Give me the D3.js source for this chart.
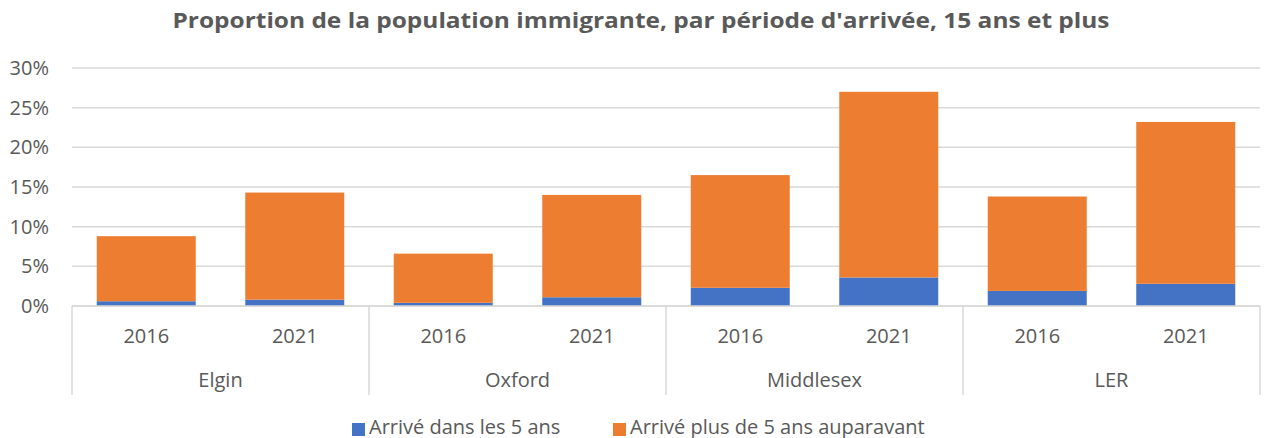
<!DOCTYPE html>
<html>
<head>
<meta charset="utf-8">
<script src="https://cdn.jsdelivr.net/npm/d3@7"></script>
<style>
  body { margin: 0; background: #fff; }
  text { font-family: "Open Sans", "Liberation Sans", sans-serif; fill: #595959; }
</style>
</head>
<body>
<div id="chart"></div>
<script>
const regions = ["Elgin", "Oxford", "Middlesex", "LER"];
const years = ["2016", "2021"];
const seriesNames = ["Arrivé dans les 5 ans", "Arrivé plus de 5 ans auparavant"];
// values in %, order: Elgin 2016, Elgin 2021, Oxford 2016, ...
const recent = [0.6, 0.8, 0.4, 1.1, 2.3, 3.6, 1.9, 2.8];
const earlier = [8.2, 13.5, 6.2, 12.9, 14.2, 23.4, 11.9, 20.4];
const yTicks = [0, 5, 10, 15, 20, 25, 30];

const width = 1266;
const height = 438;
const margin = {top: 68, right: 6, bottom: 132, left: 72};
const innerWidth = width - margin.left - margin.right;
const innerHeight = height - margin.top - margin.bottom;
const colors = ["#4472C4", "#ED7D31"];

const rows = [];
regions.forEach((r, i) => years.forEach((y, j) => {
    const k = i * years.length + j;
    rows.push({region: r, year: y, recent: recent[k], earlier: earlier[k]});
}));

const svg = d3.select("#chart")
    .append("svg")
    .attr("width", width)
    .attr("height", height);

svg.append("text")
    .attr("x", 641)
    .attr("y", 28)
    .attr("text-anchor", "middle")
    .attr("textLength", 937)
    .attr("lengthAdjust", "spacingAndGlyphs")
    .style("font-size", "22px")
    .style("font-weight", "bold")
    .text("Proportion de la population immigrante, par période d'arrivée, 15 ans et plus");

const graph = svg.append("g")
    .attr("transform", `translate(${margin.left}, ${margin.top})`);

const xGroup = d3.scaleBand()
    .domain(regions)
    .range([0, innerWidth]);

const xYear = d3.scaleBand()
    .domain(years)
    .range([0, xGroup.bandwidth()])
    .paddingInner(1 / 3)
    .paddingOuter(1 / 6);

const yScale = d3.scaleLinear()
    .domain([0, 30])
    .range([innerHeight, 0]);

// gridlines
graph.append("g")
    .selectAll("line")
    .data(yTicks)
    .join("line")
    .attr("x1", 0)
    .attr("x2", innerWidth)
    .attr("y1", d => yScale(d))
    .attr("y2", d => yScale(d))
    .attr("stroke", "#d9d9d9")
    .attr("stroke-width", 1.5);

graph.append("g")
    .selectAll("text")
    .data(yTicks)
    .join("text")
    .attr("x", -23)
    .attr("y", d => yScale(d) + 7)
    .attr("text-anchor", "end")
    .style("font-size", "20px")
    .text(d => d + "%");

const stack = d3.stack().keys(["recent", "earlier"]);
const stacked = stack(rows);

graph.append("g")
    .selectAll("g")
    .data(stacked)
    .join("g")
    .attr("fill", (d, i) => colors[i])
    .selectAll("rect")
    .data(d => d)
    .join("rect")
    .attr("x", d => xGroup(d.data.region) + xYear(d.data.year))
    .attr("width", xYear.bandwidth())
    .attr("y", d => yScale(d[1]))
    .attr("height", d => yScale(d[0]) - yScale(d[1]));

// multi-level category axis
const axis = graph.append("g")
    .attr("transform", `translate(0, ${innerHeight})`);

axis.append("line")
    .attr("x1", 0)
    .attr("x2", innerWidth)
    .attr("stroke", "#d9d9d9")
    .attr("stroke-width", 1.5);

axis.selectAll("line.sep")
    .data(regions.map(r => xGroup(r)).concat([innerWidth]))
    .join("line")
    .attr("class", "sep")
    .attr("x1", d => d)
    .attr("x2", d => d)
    .attr("y1", 0)
    .attr("y2", 89)
    .attr("stroke", "#d9d9d9")
    .attr("stroke-width", 1.5);

axis.selectAll("text.year")
    .data(rows)
    .join("text")
    .attr("class", "year")
    .attr("x", d => xGroup(d.region) + xYear(d.year) + xYear.bandwidth() / 2)
    .attr("y", 37)
    .attr("text-anchor", "middle")
    .style("font-size", "20px")
    .text(d => d.year);

axis.selectAll("text.region")
    .data(regions)
    .join("text")
    .attr("class", "region")
    .attr("x", d => xGroup(d) + xGroup.bandwidth() / 2)
    .attr("y", 81)
    .attr("text-anchor", "middle")
    .style("font-size", "20px")
    .text(d => d);

// legend
const legendX = [352, 613];
const legend = svg.append("g")
    .selectAll("g")
    .data(seriesNames)
    .join("g")
    .attr("transform", (d, i) => `translate(${legendX[i]}, 428)`);

legend.append("rect")
    .attr("x", 0)
    .attr("y", -5)
    .attr("width", 13)
    .attr("height", 13)
    .attr("fill", (d, i) => colors[i]);

legend.append("text")
    .attr("x", 17)
    .attr("y", 6)
    .style("font-size", "20px")
    .text(d => d);
</script>
</body>
</html>
